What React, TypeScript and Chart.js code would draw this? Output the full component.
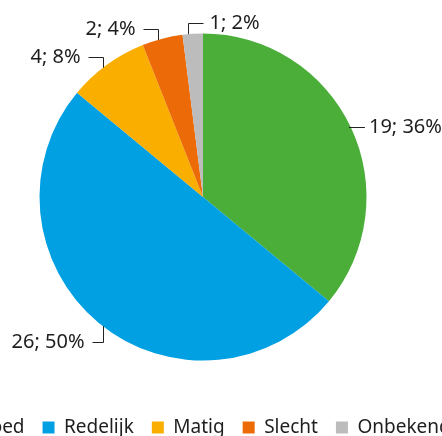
import React, { useEffect, useRef } from "react";
import { Chart, registerables } from "chart.js";

Chart.register(...registerables);

const categories = ["Goed", "Redelijk", "Matig", "Slecht", "Onbekend"];
const counts = [19, 26, 4, 2, 1];
const percents = [36, 50, 8, 4, 2];
const colors = ["#4aae38", "#00a0e2", "#f9ae00", "#ec6a07", "#bcbcbc"];

const FONT = '"Noto Sans", sans-serif';
const TEXT = "#1e1e1e";

const labelPlugin = {
  id: "pieLabels",
  afterDatasetsDraw(chart: any) {
    const ctx = chart.ctx;
    const meta = chart.getDatasetMeta(0);
    ctx.save();
    ctx.font = `20px ${FONT}`;
    ctx.fillStyle = TEXT;
    ctx.strokeStyle = "#222";
    ctx.lineWidth = 1;
    ctx.textBaseline = "middle";
    meta.data.forEach((arc: any, i: number) => {
      const mid = (arc.startAngle + arc.endAngle) / 2;
      const R = arc.outerRadius;
      const steep = Math.abs(Math.sin(mid)) > 0.6;
      const a = steep ? mid - 0.03 : mid;
      const px = arc.x + R * Math.cos(a);
      const py = arc.y + R * Math.sin(a);
      const s = Math.sin(a);
      const right = Math.cos(mid) > -0.1;
      const text = `${counts[i]}; ${percents[i]}%`;
      ctx.beginPath();
      let ey: number;
      let hx: number;
      if (steep) {
        const vlen = s < 0 ? 11 : 16;
        ey = Math.round(py + (s < 0 ? -vlen : vlen)) + 0.5;
        const vx = Math.round(px) + 0.5;
        hx = right ? vx + 15 : vx - (s < 0 ? 15 : 11);
        ctx.moveTo(vx, py);
        ctx.lineTo(vx, ey);
        ctx.lineTo(hx, ey);
      } else {
        ey = Math.round(py) + 0.5;
        hx = right ? px + 14 : px - 14;
        ctx.moveTo(px - (right ? 2 : -2), ey);
        ctx.lineTo(hx, ey);
      }
      ctx.stroke();
      ctx.textAlign = right ? "left" : "right";
      ctx.fillText(text, right ? hx + (steep ? 6 : 4) : hx - 8, ey);
    });
    ctx.restore();
  },
};

export default function App() {
  const ref = useRef<HTMLCanvasElement>(null);
  useEffect(() => {
    if (!ref.current) return;
    const chart = new Chart(ref.current, {
      type: "pie",
      data: {
        labels: categories,
        datasets: [
          {
            data: percents,
            backgroundColor: colors,
            borderWidth: 0,
            radius: 163.5,
          } as any,
        ],
      },
      options: {
        responsive: false,
        animation: false,
        layout: { padding: 0 },
        plugins: {
          tooltip: { enabled: false },
          legend: {
            position: "bottom",
            labels: {
              boxWidth: 12,
              boxHeight: 12,
              padding: 18,
              color: TEXT,
              font: { family: FONT, size: 19 },
            },
          },
        },
      },
      plugins: [labelPlugin],
    });
    return () => chart.destroy();
  }, []);
  return (
    <div
      style={{
        position: "absolute",
        left: 0,
        top: 0,
        width: 442,
        height: 436,
        overflow: "hidden",
        background: "#fff",
      }}
    >
      <canvas
        ref={ref}
        width={560}
        height={453}
        style={{ position: "absolute", left: -77, top: -6 }}
      />
    </div>
  );
}
